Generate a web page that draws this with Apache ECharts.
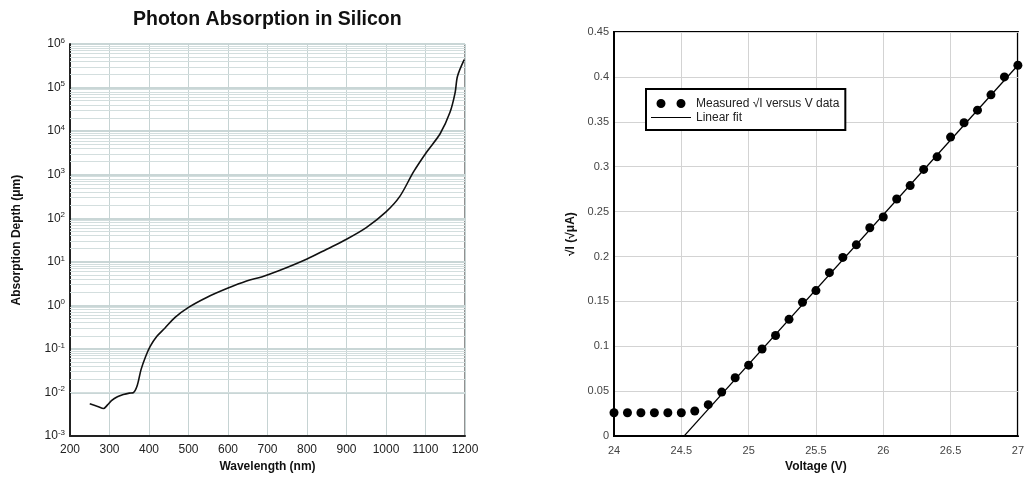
<!DOCTYPE html>
<html>
<head>
<meta charset="utf-8">
<script src="https://cdn.jsdelivr.net/npm/echarts@6/dist/echarts.min.js"></script>
<style>
html,body{margin:0;padding:0;background:#fff;}
#chart{width:1027px;height:478px;}
</style>
</head>
<body>
<div id="chart"></div>
<script>
// ---- Left chart: Photon Absorption in Silicon ----
const wavelength = [250, 270, 285, 295, 305, 320, 335, 350, 360, 370, 380, 392, 403, 420, 440, 466, 500, 546, 597, 647, 685, 730, 800, 850, 900, 950, 1000, 1035, 1070, 1103, 1137, 1162, 1175, 1181, 1198];
const depth = [0.0055, 0.0048, 0.0043, 0.0052, 0.0065, 0.0080, 0.0090, 0.0097, 0.0099, 0.0143, 0.034, 0.069, 0.115, 0.195, 0.30, 0.53, 0.90, 1.52, 2.43, 3.63, 4.5, 6.3, 11.6, 19.5, 33, 61, 140, 318, 1175, 3330, 8700, 27000, 76700, 182000, 436000];
const decadeExponents = [-3, -2, -1, 0, 1, 2, 3, 4, 5];
const minorMultipliers = [2, 3, 4, 5, 6, 7, 8, 9];

// ---- Right chart: sqrt(I) vs V ----
const voltage = [24.0, 24.1, 24.2, 24.3, 24.4, 24.5, 24.6, 24.7, 24.8, 24.9, 25.0, 25.1, 25.2, 25.3, 25.4, 25.5, 25.6, 25.7, 25.8, 25.9, 26.0, 26.1, 26.2, 26.3, 26.4, 26.5, 26.6, 26.7, 26.8, 26.9, 27.0];
const sqrtI = [0.026, 0.026, 0.026, 0.026, 0.026, 0.026, 0.028, 0.035, 0.049, 0.065, 0.079, 0.097, 0.112, 0.130, 0.149, 0.162, 0.182, 0.199, 0.213, 0.232, 0.244, 0.264, 0.279, 0.297, 0.311, 0.333, 0.349, 0.363, 0.380, 0.400, 0.413];
const fitVoltage = [24.52, 27.0];
const fitSqrtI = [0, 0.413];

const FONT = 'Liberation Sans, Arial, Helvetica, sans-serif';

const minorGrid = [];
decadeExponents.forEach(e => minorMultipliers.forEach(m => minorGrid.push({ yAxis: m * Math.pow(10, e) })));

const chart = echarts.init(document.getElementById('chart'), null, { renderer: 'canvas' });
chart.setOption({
  animation: false,
  backgroundColor: '#fff',
  textStyle: { fontFamily: FONT },
  title: {
    text: 'Photon Absorption in Silicon',
    left: 133, top: 10, padding: 0,
    textStyle: { fontFamily: FONT, fontSize: 19.5, fontWeight: 'bold', color: '#111' }
  },
  legend: {
    orient: 'vertical',
    left: 646, top: 89,
    padding: [8, 6, 6, 5],
    itemGap: 1,
    itemWidth: 40, itemHeight: 10,
    backgroundColor: '#fff',
    borderColor: '#000', borderWidth: 2,
    textStyle: { fontFamily: FONT, fontSize: 12, color: '#222', lineHeight: 13 },
    data: [
      { name: 'Measured \u221AI versus V data',
        icon: 'path://M0,0M40,10M5.5,5a4.5,4.5 0 1,0 9,0a4.5,4.5 0 1,0 -9,0M25.5,5a4.5,4.5 0 1,0 9,0a4.5,4.5 0 1,0 -9,0',
        itemStyle: { color: '#000', opacity: 1 } },
      { name: 'Linear fit',
        icon: 'path://M0,0M40,10M0,4.4L40,4.4L40,5.6L0,5.6Z',
        itemStyle: { color: '#000', opacity: 1 } }
    ]
  },
  grid: [
    { left: 70, top: 44, width: 395, height: 397, show: true, borderColor: '#222', borderWidth: 1, backgroundColor: 'transparent' },
    { left: 614, top: 32, width: 407, height: 405, show: true, borderColor: '#000', borderWidth: 2, backgroundColor: 'transparent' }
  ],
  xAxis: [
    {
      gridIndex: 0, type: 'value', min: 200, max: 1200, interval: 100,
      name: 'Wavelength (nm)', nameLocation: 'middle', nameGap: 22,
      nameTextStyle: { fontFamily: FONT, fontSize: 12, fontWeight: 'bold', color: '#111' },
      axisLine: { lineStyle: { color: '#222', width: 2 } },
      axisTick: { show: false },
      axisLabel: { fontFamily: FONT, fontSize: 12, color: '#222', margin: 8, formatter: v => String(v) },
      splitLine: { show: true, lineStyle: { color: '#c6d3d3', width: 1 } }
    },
    {
      gridIndex: 1, type: 'value', min: 24, max: 27, interval: 0.5,
      name: 'Voltage (V)', nameLocation: 'middle', nameGap: 24,
      nameTextStyle: { fontFamily: FONT, fontSize: 12, fontWeight: 'bold', color: '#111' },
      axisLine: { lineStyle: { color: '#000', width: 2 } },
      axisTick: { show: false },
      axisLabel: { fontFamily: FONT, fontSize: 11, color: '#444', margin: 9, formatter: v => String(v) },
      splitLine: { show: true, lineStyle: { color: '#d3d3d3', width: 1 } }
    }
  ],
  yAxis: [
    {
      gridIndex: 0, type: 'log', logBase: 10, min: 0.001, max: 1000000, interval: 1,
      name: 'Absorption Depth (\u03BCm)', nameLocation: 'middle', nameGap: 47, nameRotate: 90,
      nameTextStyle: { fontFamily: FONT, fontSize: 12, fontWeight: 'bold', color: '#111' },
      axisLine: { show: true, lineStyle: { color: '#222', width: 2 } },
      axisTick: { show: false },
      axisLabel: {
        margin: 5,
        formatter: v => '{b|10}{sup|' + Math.round(Math.log10(v)) + '}',
        rich: {
          b: { fontFamily: FONT, fontSize: 12, color: '#222', lineHeight: 15 },
          sup: { fontFamily: FONT, fontSize: 8, color: '#222', lineHeight: 9, verticalAlign: 'top' }
        }
      },
      splitLine: { show: true, lineStyle: { color: '#c9d6d6', width: 2 } }
    },
    {
      gridIndex: 1, type: 'value', min: 0, max: 0.45, interval: 0.05,
      name: '\u221AI (\u221A\u03BCA)', nameLocation: 'middle', nameGap: 37, nameRotate: 90,
      nameTextStyle: { fontFamily: FONT, fontSize: 12, fontWeight: 'bold', color: '#111' },
      axisLine: { show: true, lineStyle: { color: '#000', width: 2 } },
      axisTick: { show: false },
      axisLabel: { fontFamily: FONT, fontSize: 11, color: '#444', margin: 5, formatter: v => String(+v.toFixed(2)) },
      splitLine: { show: true, lineStyle: { color: '#d3d3d3', width: 1 } }
    }
  ],
  series: [
    {
      name: 'minorGrid', type: 'line', xAxisIndex: 0, yAxisIndex: 0, z: 1,
      data: [[wavelength[0], depth[0]]], showSymbol: false, symbol: 'none',
      lineStyle: { opacity: 0 }, silent: true,
      markLine: {
        silent: true, symbol: ['none', 'none'], label: { show: false },
        lineStyle: { color: '#d3dede', width: 1, type: 'solid' },
        emphasis: { disabled: true },
        data: minorGrid
      }
    },
    {
      name: 'Absorption depth', type: 'line', xAxisIndex: 0, yAxisIndex: 0, z: 5,
      data: wavelength.map((w, i) => [w, depth[i]]),
      smooth: 0.3, symbol: 'none', lineStyle: { color: '#111', width: 1.6 }
    },
    {
      name: 'Linear fit', type: 'line', xAxisIndex: 1, yAxisIndex: 1, z: 4,
      data: fitVoltage.map((v, i) => [v, fitSqrtI[i]]),
      symbol: 'none', lineStyle: { color: '#000', width: 1.3 }, itemStyle: { color: '#000' }
    },
    {
      name: 'Measured \u221AI versus V data', type: 'scatter', xAxisIndex: 1, yAxisIndex: 1, z: 5,
      data: voltage.map((v, i) => [v, sqrtI[i]]),
      symbol: 'circle', symbolSize: 9, itemStyle: { color: '#000', opacity: 1 }, clip: false
    }
  ]
});
</script>
</body>
</html>
